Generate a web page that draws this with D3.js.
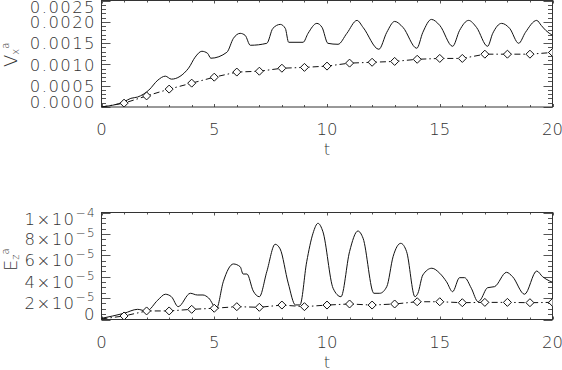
<!DOCTYPE html>
<html>
<head>
<meta charset="utf-8">
<script src="https://cdn.jsdelivr.net/npm/d3@7"></script>
<style>
body{margin:0;background:#fff;}
text{font-family:"DejaVu Sans",sans-serif;font-weight:200;fill:#333;}
</style>
</head>
<body>
<script>
// time axis
var tTicks = [0, 5, 10, 15, 20];

// top panel : V_x^a
var vxT = [0,1.0,1.3,1.6,2.1,2.5,2.83,3.1,3.86,4.15,4.45,4.7,4.85,5.56,5.85,6.15,6.37,6.6,7.33,7.6,7.93,8.15,8.3,8.94,9.16,9.55,9.78,10.04,10.49,10.88,11.33,11.6,12.3,12.65,13.0,13.37,13.98,14.25,14.63,15.0,15.57,15.88,16.28,16.63,17.12,17.35,17.74,18.1,18.5,18.8,19.3,19.5,19.7,20];
var vxSolid = [0,0.000124,0.000203,0.000234,0.000397,0.000631,0.000724,0.000654,0.000911,0.001168,0.001308,0.001262,0.001145,0.001285,0.001612,0.001729,0.001682,0.001449,0.001495,0.001846,0.001939,0.001846,0.001519,0.001519,0.001729,0.001963,0.001869,0.001495,0.001472,0.001729,0.002033,0.001869,0.001355,0.001752,0.002009,0.001869,0.001379,0.001752,0.002056,0.001916,0.001425,0.001799,0.002033,0.001869,0.001425,0.001729,0.001963,0.001846,0.001495,0.001752,0.002033,0.001916,0.001799,0.001682];
var avgT = [0,1,2,3,4,5,6,7,8,9,10,11,12,13,14,15,16,17,18,19,20];
var vxAvg = [0,0.00009,0.00026,0.00042,0.00056,0.00070,0.00082,0.00084,0.00091,0.00093,0.00096,0.00103,0.00105,0.00107,0.00112,0.00114,0.00114,0.00124,0.00124,0.00124,0.00128];
var vxTicks = [0, 0.0005, 0.0010, 0.0015, 0.0020, 0.0025];
var vxLabels = ["0.0000", "0.0005", "0.0010", "0.0015", "0.0020", "0.0025"];

// bottom panel : E_z^a
var ezT = [0,0.5,1.0,1.6,2.0,2.5,2.83,3.1,3.4,3.94,4.25,4.5,4.75,5.1,5.4,5.85,6.15,6.28,6.45,6.73,7.0,7.33,7.7,7.92,8.28,8.6,8.8,9.1,9.38,9.6,9.82,10.27,10.62,11.0,11.37,11.6,12.08,12.34,12.65,12.93,13.27,13.53,13.9,14.03,14.25,14.65,15.0,15.3,15.57,15.88,16.1,16.4,16.7,16.8,17.12,17.43,17.96,18.23,18.76,19.3,19.56,19.87,20];
var ezSolid = [0.11e-5,0.33e-5,0.58e-5,0.95e-5,0.79e-5,1.82e-5,2.36e-5,2.13e-5,1.2e-5,2.45e-5,2.29e-5,2.29e-5,2.01e-5,1.05e-5,3.53e-5,5.19e-5,4.93e-5,4.25e-5,4.25e-5,2.66e-5,2.13e-5,4.47e-5,7.03e-5,6.6e-5,3.4e-5,1.36e-5,1.36e-5,5.4e-5,8.06e-5,8.99e-5,8.2e-5,2.92e-5,2.13e-5,6.34e-5,8.27e-5,7.59e-5,2.45e-5,2.45e-5,3.07e-5,5.87e-5,7.12e-5,6.34e-5,2.13e-5,2.45e-5,4.16e-5,4.79e-5,4.32e-5,3.53e-5,2.6e-5,3.91e-5,3.91e-5,2.92e-5,1.66e-5,1.82e-5,2.97e-5,3.07e-5,4.41e-5,4.0e-5,2.36e-5,4.53e-5,4.0e-5,3.6e-5,3.48e-5];
var ezAvg = [0.05e-5,0.33e-5,0.8e-5,0.8e-5,0.95e-5,1.05e-5,1.2e-5,1.14e-5,1.35e-5,1.2e-5,1.35e-5,1.45e-5,1.35e-5,1.45e-5,1.66e-5,1.66e-5,1.57e-5,1.6e-5,1.6e-5,1.57e-5,1.6e-5];
var ezTicks = [0, 2e-5, 4e-5, 6e-5, 8e-5, 1e-4];
var ezLabels = [["0",""], ["2×10","−5"], ["4×10","−5"], ["6×10","−5"], ["8×10","−5"], ["1×10","−4"]];

var W = 562, H = 370, left = 101.5, right = 552.5;

var svg = d3.select('body').append('svg').attr('width', W).attr('height', H);
svg.append('rect').attr('width', W).attr('height', H).attr('fill', '#fff');

var x = d3.scaleLinear().domain([0, 20]).range([left, right]);

function drawPanel(id, top, bottom, yMax, majors, minorStep, labels, solidT, solid, avg, labOff, title, labY){
	var y = d3.scaleLinear().domain([0, yMax]).range([bottom, top]);
	var g = svg.append('g');

	g.append('clipPath').attr('id', id).append('rect')
		.attr('x', left).attr('y', top).attr('width', right - left).attr('height', bottom - top);

	// minor / major ticks on y (left + right)
	var minors = d3.range(0, yMax + minorStep / 2, minorStep);
	minors.forEach(function(v){
		var isMajor = majors.some(function(m){ return Math.abs(m - v) < minorStep / 10; });
		var len = isMajor ? 9 : 4.5, yy = Math.round(y(v)) + 0.5;
		g.append('line').attr('x1', left).attr('x2', left + len).attr('y1', yy).attr('y2', yy).attr('stroke', '#555');
		g.append('line').attr('x1', right).attr('x2', right - len).attr('y1', yy).attr('y2', yy).attr('stroke', '#555');
	});
	// ticks on x (bottom + top)
	d3.range(0, 21, 1).forEach(function(t){
		var len = t % 5 == 0 ? 3 : 2, xx = Math.round(x(t)) + 0.5;
		g.append('line').attr('x1', xx).attr('x2', xx).attr('y1', bottom).attr('y2', bottom - len).attr('stroke', '#555');
		g.append('line').attr('x1', xx).attr('x2', xx).attr('y1', top).attr('y2', top + len).attr('stroke', '#555');
	});

	// frame
	g.append('rect').attr('x', left).attr('y', top).attr('width', right - left).attr('height', bottom - top)
		.attr('fill', 'none').attr('stroke', '#333').attr('stroke-width', 1);

	// y tick labels
	majors.forEach(function(v, i){
		var base = Math.min(Math.max(y(v) + labOff, top + 12), bottom + 0.5);
		var lab = labels[i];
		var txt = g.append('text').attr('x', 96).attr('y', base).attr('text-anchor', 'end')
			.attr('font-size', 16.5).attr('letter-spacing', 1.4);
		if (typeof lab == 'string') {
			txt.text(lab);
		} else {
			txt.append('tspan').text(lab[0]);
			if (lab[1]) txt.append('tspan').attr('dy', -8).attr('font-size', 12).text(lab[1]);
		}
	});

	// x tick labels
	tTicks.forEach(function(t){
		g.append('text').attr('x', x(t)).attr('y', bottom + 28).attr('text-anchor', 'middle')
			.attr('font-size', 16.5).text(t);
	});
	g.append('text').attr('x', x(10)).attr('y', bottom + 48).attr('text-anchor', 'middle')
		.attr('font-size', 16.5).text('t');

	// y title
	var tt = g.append('text').attr('transform', 'translate(17,' + labY + ') rotate(-90)').attr('font-size', 18);
	tt.append('tspan').text(title[0]);
	tt.append('tspan').attr('dy', 2).attr('font-size', 10).text(title[1]);
	tt.append('tspan').attr('dy', -10).attr('font-size', 10).text('a');

	var plot = g.append('g').attr('clip-path', 'url(#' + id + ')');

	var line = d3.line().x(function(d){ return x(d[0]); }).y(function(d){ return y(d[1]); }).curve(d3.curveMonotoneX);
	var solidPts = solidT.map(function(t, i){ return [t, solid[i]]; });
	plot.append('path').attr('d', line(solidPts)).attr('fill', 'none').attr('stroke', '#111').attr('stroke-width', 1);

	var avgPts = avgT.map(function(t, i){ return [t, avg[i]]; });
	var straight = d3.line().x(function(d){ return x(d[0]); }).y(function(d){ return y(d[1]); });
	plot.append('path').attr('d', straight(avgPts)).attr('fill', 'none').attr('stroke', '#111')
		.attr('stroke-width', 1).attr('stroke-dasharray', '6,3,1.5,3');

	plot.selectAll('path.dia').data(avgPts.filter(function(d){ return d[0] > 0; })).enter().append('path')
		.attr('class', 'dia')
		.attr('d', function(d){ var cx = x(d[0]), cy = y(d[1]); return 'M' + cx + ',' + (cy - 4) + 'L' + (cx + 4) + ',' + cy + 'L' + cx + ',' + (cy + 4) + 'L' + (cx - 4) + ',' + cy + 'Z'; })
		.attr('fill', '#fff').attr('stroke', '#111').attr('stroke-width', 1);
}

drawPanel('clipTop', 0.5, 107, 0.0025, vxTicks, 0.0001, vxLabels, vxT, vxSolid, vxAvg, 6.3, ['V', 'x'], 67);
drawPanel('clipBot', 212.5, 319.5, 1e-4, ezTicks, 0.5e-5, ezLabels, ezT, ezSolid, ezAvg, 11, ['E', 'z'], 271);
</script>
</body>
</html>
